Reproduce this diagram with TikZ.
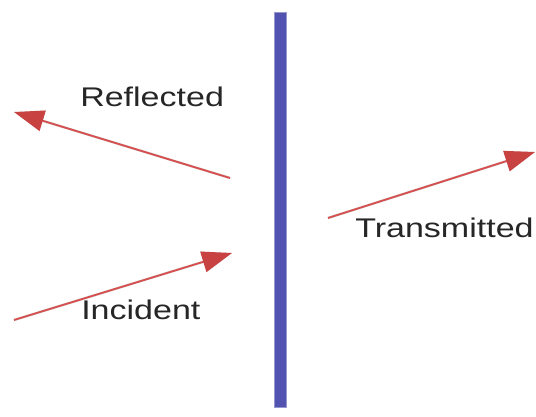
\documentclass[tikz,border=0pt]{standalone}
\usepackage{fontspec}
\setmainfont{Liberation Sans}
\usetikzlibrary{arrows.meta}
\definecolor{barblue}{RGB}{82,82,176}
\definecolor{arrred}{RGB}{214,78,78}
\definecolor{headred}{RGB}{200,66,66}
\tikzset{
  ray/.style={draw=arrred, line width=1.8pt, -{Triangle[length=30pt,width=21pt,fill=headred,color=headred]}},
  shadowray/.style={draw=black!15, line width=2.5pt, -{Triangle[length=30pt,width=21pt,fill=black!12,color=black!12]}},
  lbl/.style={inner sep=0pt, anchor=base west, font=\fontsize{27}{30}\selectfont, xscale=1.26, text=black!85}
}
\begin{document}
\begin{tikzpicture}[x=1pt,y=-1pt]
\useasboundingbox[fill=white] (0,0) rectangle (536,417);
% barrier
\node[draw=barblue!60, fill=barblue, minimum width=12pt, minimum height=395pt, inner sep=0pt, line width=0.8pt] (bar) at (280,209.5) {};
% coordinates
\coordinate (rs) at (230,178);
\coordinate (re) at (14,112);
\coordinate (is) at (14,320);
\coordinate (ie) at (232,253);
\coordinate (ts) at (328,218);
\coordinate (te) at (535,152);
% shadows
\begin{scope}[shift={(2,4)}]
\draw[shadowray] (rs) -- (re);
\draw[shadowray] (is) -- (ie);
\draw[shadowray] (ts) -- (te);
\end{scope}
% rays
\draw[ray] (rs) -- (re);
\draw[ray] (is) -- (ie);
\draw[ray] (ts) -- (te);
% labels
\node[lbl] (refl) at (80,107) {Reflected};
\node[lbl] (inc) at (81,319) {Incident};
\node[lbl] (trans) at (355,237) {Transmitted};
\end{tikzpicture}
\end{document}
